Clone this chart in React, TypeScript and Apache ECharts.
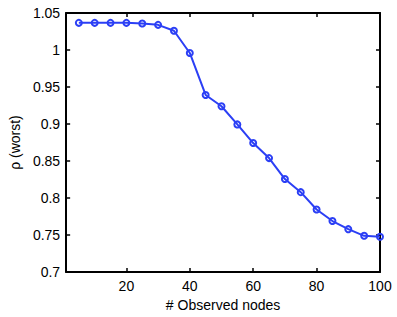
import React, { useEffect, useRef } from "react";
import * as echarts from "echarts";

const xValues = [5, 10, 15, 20, 25, 30, 35, 40, 45, 50, 55, 60, 65, 70, 75, 80, 85, 90, 95, 100];
const yValues = [1.0367, 1.0367, 1.0367, 1.0367, 1.0358, 1.034, 1.026, 0.996, 0.9393, 0.924, 0.8995, 0.8743, 0.854, 0.8257, 0.808, 0.7845, 0.769, 0.758, 0.749, 0.7478];
const xTicks = [20, 40, 60, 80, 100];
const yTicks = ["0.7", "0.75", "0.8", "0.85", "0.9", "0.95", "1", "1.05"];

export default function App() {
  const ref = useRef<HTMLDivElement>(null);
  useEffect(() => {
    document.body.style.margin = "0";
    const chart = echarts.init(ref.current!, undefined, { renderer: "svg" });
    const font = "Liberation Sans, Arial, sans-serif";
    const axisLine = { show: true, lineStyle: { color: "#000", width: 2 } };
    const tick = { show: true, inside: true, length: 4, lineStyle: { color: "#000", width: 1.5 } };
    const xTick = { ...tick, customValues: xTicks };
    chart.setOption({
      animation: false,
      backgroundColor: "#fff",
      grid: { left: 60, right: 17, top: 13, bottom: 40, containLabel: false },
      xAxis: [
        {
          type: "value",
          min: 1,
          max: 100,
          axisLine,
          axisTick: xTick,
          splitLine: { show: false },
          axisLabel: {
            color: "#000",
            fontSize: 14,
            fontFamily: font,
            margin: 7,
            customValues: xTicks,
            formatter: (v: number) => String(v),
          },
          name: "# Observed nodes",
          nameLocation: "middle",
          nameGap: 23,
          nameTextStyle: { color: "#000", fontSize: 14, fontFamily: font },
        },
        {
          type: "value",
          position: "top",
          min: 1,
          max: 100,
          axisLine,
          axisTick: xTick,
          splitLine: { show: false },
          axisLabel: { show: false },
        },
      ],
      yAxis: [
        {
          type: "value",
          min: 0.7,
          max: 1.05,
          interval: 0.05,
          axisLine,
          axisTick: tick,
          splitLine: { show: false },
          axisLabel: {
            color: "#000",
            fontSize: 14,
            fontFamily: font,
            margin: 6,
            formatter: (v: number) => {
              const i = Math.round((v - 0.7) / 0.05);
              return yTicks[i] ?? "";
            },
          },
          name: "ρ (worst)",
          nameLocation: "middle",
          nameGap: 38,
          nameTextStyle: { color: "#000", fontSize: 14, fontFamily: font },
        },
        {
          type: "value",
          position: "right",
          min: 0.7,
          max: 1.05,
          interval: 0.05,
          axisLine,
          axisTick: tick,
          splitLine: { show: false },
          axisLabel: { show: false },
        },
      ],
      series: [
        {
          type: "line",
          data: xValues.map((x, i) => [x, yValues[i]]),
          symbol: "circle",
          symbolSize: 6,
          showAllSymbol: true,
          lineStyle: { color: "#2b3ff5", width: 2 },
          itemStyle: { color: "rgba(0,0,0,0)", borderColor: "#2b3ff5", borderWidth: 2 },
          clip: false,
        },
      ],
    });
    return () => chart.dispose();
  }, []);
  return <div ref={ref} style={{ width: 397, height: 317 }} />;
}
